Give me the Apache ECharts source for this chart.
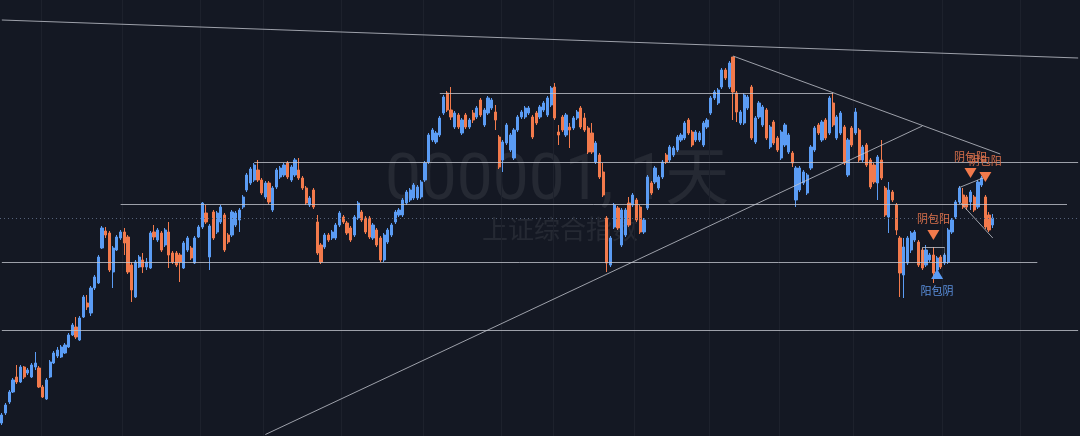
<!DOCTYPE html>
<html>
<head>
<meta charset="utf-8">
<script src="https://cdn.jsdelivr.net/npm/echarts@6/dist/echarts.min.js"></script>
<style>
html,body{margin:0;padding:0;background:#141823;}
#chart{width:1080px;height:436px;}
</style>
</head>
<body>
<div id="chart"></div>
<script>
// Daily candles of 000001 (上证综合指数): [open, close, low, high]
const ohlc = [
[2754,2770,2750,2774],[2774,2790,2770,2794],[2796,2816,2792,2820],[2816,2840,2814,2844],[2846,2836,2832,2870],
[2836,2866,2834,2870],[2866,2846,2842,2868],[2854,2860,2850,2864],[2846,2870,2844,2874],[2866,2874,2860,2896],
[2864,2826,2824,2868],[2826,2806,2804,2830],[2802,2840,2800,2844],[2846,2876,2844,2880],[2874,2894,2872,2898],
[2888,2900,2884,2906],[2886,2906,2884,2910],[2894,2910,2892,2914],[2906,2930,2904,2934],[2930,2950,2928,2954],
[2946,2926,2922,2966],[2920,2964,2918,2968],[2966,3006,2964,3010],[2994,2986,2980,3010],[2974,3024,2968,3028],
[3024,3046,3020,3050],[3034,3086,3032,3090],[3104,3144,3102,3148],[3138,3130,3124,3146],[3134,3060,3056,3138],
[3056,3104,3024,3108],[3100,3126,3098,3130],[3124,3136,3120,3140],[3136,3114,3090,3144],[3126,3056,3052,3130],
[3070,3020,2996,3076],[3006,3076,3004,3080],[3066,3086,3064,3090],[3080,3066,3054,3094],[3066,3076,3060,3084],
[3064,3134,3062,3138],[3136,3126,3120,3150],[3120,3140,3116,3144],[3134,3100,3096,3138],[3110,3140,3106,3144],
[3136,3090,3064,3156],[3094,3076,3072,3098],[3094,3070,3066,3098],[3090,3076,3036,3094],[3064,3114,3062,3118],
[3100,3124,3096,3128],[3104,3084,3080,3108],[3074,3124,3072,3128],[3126,3146,3124,3150],[3146,3194,3142,3196],
[3174,3156,3152,3190],[3086,3148,3060,3152],[3176,3124,3120,3180],[3136,3174,3132,3178],[3156,3186,3152,3190],
[3170,3100,3096,3174],[3130,3116,3112,3134],[3130,3176,3126,3180],[3150,3174,3146,3178],[3160,3180,3136,3184],
[3186,3206,3182,3210],[3220,3250,3216,3254],[3234,3262,3230,3266],[3240,3270,3236,3274],[3260,3240,3236,3280],
[3240,3214,3210,3244],[3206,3234,3202,3238],[3234,3196,3192,3238],[3180,3224,3176,3228],[3226,3260,3222,3264],
[3246,3264,3242,3268],[3250,3270,3246,3274],[3274,3246,3242,3278],[3240,3266,3236,3270],[3250,3280,3246,3284],
[3260,3244,3240,3284],[3244,3224,3220,3248],[3224,3194,3190,3228],[3190,3204,3186,3208],[3220,3186,3182,3224],
[3156,3094,3090,3170],[3110,3076,3072,3114],[3106,3130,3102,3134],[3130,3120,3116,3134],[3124,3136,3120,3140],
[3124,3150,3120,3154],[3150,3174,3146,3178],[3166,3156,3152,3170],[3154,3134,3130,3158],[3144,3120,3116,3148],
[3130,3166,3126,3170],[3164,3194,3160,3198],[3176,3160,3156,3180],[3164,3136,3132,3168],[3164,3126,3122,3168],
[3124,3150,3120,3154],[3140,3110,3106,3144],[3124,3080,3076,3128],[3080,3130,3076,3134],[3116,3140,3112,3144],
[3130,3150,3126,3154],[3156,3176,3152,3180],[3170,3180,3166,3184],[3170,3200,3166,3204],[3194,3216,3190,3220],
[3200,3220,3196,3224],[3204,3230,3200,3234],[3204,3226,3200,3230],[3206,3236,3202,3240],[3240,3274,3236,3278],
[3276,3330,3272,3334],[3320,3340,3316,3344],[3316,3334,3312,3338],[3330,3364,3326,3368],[3374,3406,3370,3410],
[3414,3380,3376,3418],[3380,3366,3360,3426],[3346,3374,3342,3378],[3370,3346,3342,3374],[3334,3360,3330,3364],
[3370,3346,3342,3374],[3346,3360,3342,3364],[3374,3360,3354,3380],[3366,3384,3362,3388],[3400,3370,3366,3404],
[3350,3380,3346,3384],[3374,3404,3370,3408],[3384,3400,3380,3404],[3376,3360,3340,3390],[3326,3266,3262,3330],
[3280,3316,3256,3320],[3314,3350,3310,3354],[3300,3330,3296,3334],[3284,3340,3280,3344],[3340,3366,3336,3370],
[3366,3376,3362,3380],[3366,3384,3362,3388],[3374,3384,3370,3388],[3366,3326,3322,3370],[3374,3354,3350,3378],
[3366,3386,3362,3390],[3380,3394,3376,3398],[3370,3404,3366,3408],[3390,3424,3386,3428],[3426,3364,3360,3434],
[3336,3330,3310,3350],[3366,3340,3336,3370],[3330,3370,3326,3374],[3346,3340,3304,3354],[3344,3364,3340,3368],
[3364,3376,3360,3380],[3384,3346,3342,3388],[3364,3340,3336,3374],[3344,3296,3292,3348],[3334,3296,3292,3354],
[3276,3314,3272,3318],[3290,3246,3242,3294],[3256,3210,3206,3274],[3164,3074,3056,3168],[3070,3124,3066,3128],
[3146,3190,3142,3194],[3184,3144,3140,3188],[3110,3180,3106,3184],[3130,3180,3126,3184],[3194,3150,3146,3206],
[3190,3210,3186,3214],[3200,3160,3156,3204],[3186,3136,3132,3190],[3136,3160,3132,3164],[3184,3246,3180,3250],
[3234,3214,3210,3238],[3236,3264,3232,3268],[3224,3246,3220,3250],[3246,3276,3242,3280],[3290,3276,3272,3294],
[3280,3306,3276,3310],[3290,3304,3286,3308],[3300,3326,3296,3330],[3320,3330,3316,3334],[3324,3354,3320,3358],
[3360,3334,3330,3364],[3336,3310,3306,3340],[3320,3336,3316,3340],[3320,3334,3316,3338],[3310,3354,3306,3358],
[3346,3360,3342,3364],[3374,3404,3370,3408],[3404,3416,3400,3420],[3394,3420,3390,3424],[3426,3460,3422,3464],
[3460,3444,3440,3464],[3426,3474,3422,3478],[3486,3416,3360,3486],[3414,3376,3356,3418],[3354,3376,3350,3380],
[3354,3410,3350,3414],[3384,3406,3380,3410],[3426,3324,3320,3430],[3316,3364,3312,3368],[3366,3394,3362,3398],
[3350,3386,3346,3390],[3380,3324,3320,3384],[3306,3346,3302,3350],[3356,3314,3310,3360],[3324,3300,3296,3328],
[3284,3336,3280,3340],[3310,3350,3306,3354],[3296,3330,3292,3334],[3294,3274,3266,3298],[3200,3264,3186,3268],
[3220,3264,3216,3268],[3234,3256,3230,3260],[3214,3250,3210,3254],[3264,3306,3260,3310],[3300,3344,3296,3348],
[3350,3334,3330,3354],[3320,3356,3316,3360],[3360,3324,3320,3364],[3334,3404,3330,3408],[3394,3350,3346,3414],
[3324,3366,3320,3370],[3334,3374,3330,3378],[3346,3274,3270,3350],[3250,3320,3246,3324],[3344,3310,3306,3348],
[3334,3376,3330,3384],[3340,3280,3276,3344],[3280,3306,3276,3310],[3310,3270,3266,3314],[3280,3226,3222,3284],
[3270,3236,3232,3274],[3234,3286,3200,3290],[3280,3244,3240,3320],[3224,3170,3166,3228],[3166,3220,3134,3236],
[3216,3200,3196,3220],[3190,3140,3130,3194],[3124,3054,3006,3128],[3050,3106,3004,3124],[3074,3124,3070,3128],
[3100,3134,3094,3138],[3120,3136,3116,3140],[3116,3070,3066,3120],[3100,3064,3060,3104],[3070,3100,3066,3110],
[3080,3090,3076,3094],[3090,3054,3034,3106],[3060,3084,3046,3088],[3086,3066,3062,3090],[3074,3090,3070,3094],
[3076,3140,3072,3144],[3136,3160,3132,3164],[3166,3196,3162,3200],[3196,3224,3192,3228],[3210,3186,3182,3224],
[3206,3186,3180,3210],[3196,3216,3180,3220],[3206,3180,3176,3210],[3186,3236,3182,3240],[3230,3244,3226,3248],
[3206,3146,3142,3210],[3170,3140,3136,3176],[3150,3164,3144,3172]
];
const TOTAL_SLOTS = 291; // trading days on the axis incl. empty space on the right
const categories = Array.from({length: TOTAL_SLOTS}, (_, i) => 'd' + i);
const monthStarts = [11, 33, 54, 71, 92, 114, 135, 149, 171, 191, 210, 230, 254, 275];
// drawing tools: [startIndex, startPrice, endIndex, endPrice]
const drawLines = [
  [0, 3560, 290, 3484],
  [118, 3414, 224, 3414],
  [68, 3276, 290, 3276],
  [32, 3192, 287, 3192],
  [0, 3076, 279, 3076],
  [0, 2939, 290, 2939],
  [71, 2731, 248, 3348],
  [197, 3488, 269, 3292],
  [258, 3225, 265, 3246],
  [258, 3197, 267, 3124],
  [248, 3106, 254, 3106]
];
const boxSides = [
  [248, 3106, 248, 3076],
  [254, 3106, 254, 3076]
];
// pattern signals: candle index, anchor price, text, direction
const signals = [
  {i: 251, price: 3130, text: '阴包阳', dir: 'down'},
  {i: 252, price: 3052, text: '阳包阴', dir: 'up'},
  {i: 261, price: 3254, text: '阴包阳', dir: 'down'},
  {i: 265, price: 3246, text: '阴包阳', dir: 'down'}
];

const UP = '#5b9cf4', DOWN = '#f27a4c';
const lastClose = ohlc[ohlc.length - 1][1];
const monthSet = new Set(monthStarts);

const lineData = drawLines.map(l => [
  {coord: [categories[l[0]], l[1]]},
  {coord: [categories[l[2]], l[3]]}
]).concat(boxSides.map(l => [
  {coord: [categories[l[0]], l[1]], lineStyle: {color: 'rgba(190,194,204,0.35)', width: 1, type: 'solid'}},
  {coord: [categories[l[2]], l[3]]}
]));
lineData.push({yAxis: lastClose, lineStyle: {color: '#56627a', type: [1, 3], width: 1}});

const markPts = signals.map(s => ({
  coord: [categories[s.i], s.price],
  symbol: 'triangle',
  symbolSize: [12, 10],
  symbolRotate: s.dir === 'down' ? 180 : 0,
  itemStyle: {color: s.dir === 'down' ? DOWN : UP},
  label: {
    show: true,
    formatter: s.text,
    position: s.dir === 'down' ? 'top' : 'bottom',
    distance: 6,
    color: s.dir === 'down' ? '#d9704b' : '#5a8fdc',
    fontSize: 11,
    fontFamily: 'Noto Sans CJK SC'
  }
}));

const chart = echarts.init(document.getElementById('chart'), null, {renderer: 'canvas'});
chart.setOption({
  backgroundColor: '#141823',
  animation: false,
  graphic: [
    {type: 'text', x: 557, y: 183, z: 0, silent: true,
     style: {text: '000001, 1天', fontSize: 64, fontFamily: 'Roboto, Noto Sans CJK SC', fontWeight: 'normal',
             fill: 'rgba(255,255,255,0.075)', align: 'center', verticalAlign: 'middle'}},
    {type: 'text', x: 560, y: 229, z: 0, silent: true,
     style: {text: '上证综合指数', fontSize: 26, fontFamily: 'Noto Sans CJK SC',
             fill: 'rgba(255,255,255,0.075)', align: 'center', verticalAlign: 'middle'}}
  ],
  grid: {left: 0, right: 0, top: 0, bottom: 0},
  xAxis: {
    type: 'category',
    data: categories,
    boundaryGap: true,
    axisLine: {show: false},
    axisTick: {show: false},
    axisLabel: {show: false},
    splitLine: {show: true, interval: (idx) => monthSet.has(idx), lineStyle: {color: '#1d212c', width: 1}}
  },
  yAxis: {
    type: 'value',
    min: 2728,
    max: 3600,
    axisLine: {show: false},
    axisTick: {show: false},
    axisLabel: {show: false},
    splitLine: {show: false}
  },
  series: [{
    type: 'candlestick',
    data: ohlc,
    barWidth: '72%',
    itemStyle: {color: UP, color0: DOWN, borderColor: UP, borderColor0: DOWN, borderWidth: 1},
    markLine: {
      silent: true,
      symbol: ['none', 'none'],
      label: {show: false},
      animation: false,
      lineStyle: {color: 'rgba(196,199,208,0.78)', width: 1, type: 'solid'},
      data: lineData
    },
    markPoint: {
      silent: true,
      animation: false,
      data: markPts
    }
  }]
});
</script>
</body>
</html>
